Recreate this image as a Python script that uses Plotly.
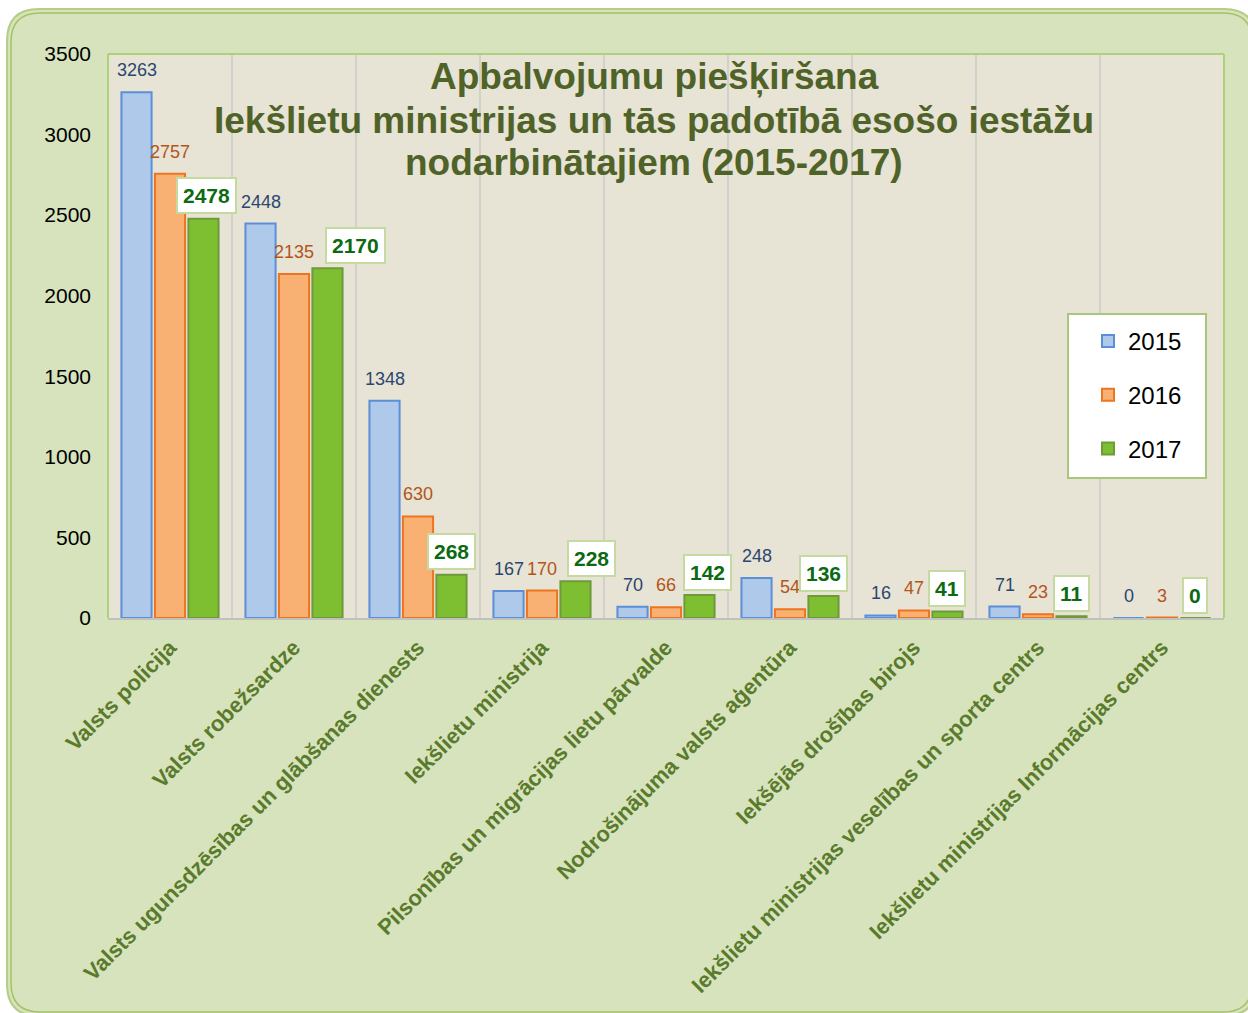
import plotly.graph_objects as go

categories = [
    "Valsts policija",
    "Valsts robežsardze",
    "Valsts ugunsdzēsības un glābšanas dienests",
    "Iekšlietu ministrija",
    "Pilsonības un migrācijas lietu pārvalde",
    "Nodrošinājuma valsts aģentūra",
    "Iekšējās drošības birojs",
    "Iekšlietu ministrijas veselības un sporta centrs",
    "Iekšlietu ministrijas Informācijas centrs",
]
years = ["2015", "2016", "2017"]
v2015 = [3263, 2448, 1348, 167, 70, 248, 16, 71, 0]
v2016 = [2757, 2135, 630, 170, 66, 54, 47, 23, 3]
v2017 = [2478, 2170, 268, 228, 142, 136, 41, 11, 0]
y_ticks = [0, 500, 1000, 1500, 2000, 2500, 3000, 3500]
title_lines = [
    "Apbalvojumu piešķiršana",
    "Iekšlietu ministrijas un tās padotībā esošo iestāžu",
    "nodarbinātajiem (2015-2017)",
]

# style: small horizontal nudges (px) of the boxed 2017 labels, to avoid overlaps
label_nudge_2017 = [3, 28, 0, 16, 8, 0, 0, 0, 0]

W, H = 1248, 1013
L, R, T, B = 108, 24, 54, 395
PW = W - L - R
PH = H - T - B
BARGAP = 0.19
FONT = "Liberation Sans, Arial, sans-serif"


def px(x):
    return (x - L) / PW


def py(y):
    return (H - B - y) / PH


def rounded(x0, y0, x1, y1, r):
    X = lambda v: f"{px(v):.5f}"
    Y = lambda v: f"{py(v):.5f}"
    return (f"M {X(x0 + r)},{Y(y0)} L {X(x1 - r)},{Y(y0)} Q {X(x1)},{Y(y0)} {X(x1)},{Y(y0 + r)} "
            f"L {X(x1)},{Y(y1 - r)} Q {X(x1)},{Y(y1)} {X(x1 - r)},{Y(y1)} "
            f"L {X(x0 + r)},{Y(y1)} Q {X(x0)},{Y(y1)} {X(x0)},{Y(y1 - r)} "
            f"L {X(x0)},{Y(y0 + r)} Q {X(x0)},{Y(y0)} {X(x0 + r)},{Y(y0)} Z")


series = [
    ("2015", v2015, "#afc9ea", "#5b8fd8", "#2b4670"),
    ("2016", v2016, "#f8b173", "#ee7420", "#b35518"),
    ("2017", v2017, "#7dbf30", "#6f9a3b", "#0b6a12"),
]

fig = go.Figure()
for name, vals, fill, edge, lab in series:
    fig.add_bar(
        x=categories, y=vals, name=name, legendgroup=name,
        marker=dict(color=fill, line=dict(color=edge, width=2)),
        hoverinfo="x+y+name",
    )

shapes = [
    # outer frame
    dict(type="path", xref="paper", yref="paper", layer="below",
         path=rounded(7, 9, 1256, 1016, 32), fillcolor="#d7e3bc",
         line=dict(color="#b5cd86", width=2)),
    dict(type="path", xref="paper", yref="paper", layer="below",
         path=rounded(11, 13, 1252, 1012, 29), fillcolor="rgba(0,0,0,0)",
         line=dict(color="#a4c267", width=1.5)),
    # plot area background
    dict(type="rect", xref="paper", yref="paper", layer="below",
         x0=0, x1=1, y0=0, y1=1, fillcolor="#e7e3d5", line=dict(width=0)),
    # plot area border (left, top, right)
    dict(type="line", xref="paper", yref="paper", x0=0, x1=0, y0=0, y1=1,
         line=dict(color="#add07a", width=2)),
    dict(type="line", xref="paper", yref="paper", x0=0, x1=1, y0=1, y1=1,
         line=dict(color="#add07a", width=2)),
    dict(type="line", xref="paper", yref="paper", x0=1, x1=1, y0=0, y1=1,
         line=dict(color="#add07a", width=2)),
    # legend box
    dict(type="rect", xref="paper", yref="paper",
         x0=px(1068), x1=px(1206), y0=py(478), y1=py(314),
         fillcolor="white", line=dict(color="#a9c77a", width=2)),
]

slot = PW / len(categories) * (1 - BARGAP) / 3
annotations = []
for i, (name, vals, fill, edge, lab) in enumerate(series):
    off = (i - 1) * slot
    for k, (c, v) in enumerate(zip(categories, vals)):
        if i < 2:
            annotations.append(dict(
                x=c, y=v, xref="x", yref="y", text=str(v), showarrow=False,
                xshift=off, yshift=22, yanchor="middle",
                font=dict(family=FONT, size=18, color=lab)))
        else:
            annotations.append(dict(
                x=c, y=v, xref="x", yref="y", text=f"<b>{v}</b>", showarrow=False,
                xshift=off + label_nudge_2017[k], yshift=23, yanchor="middle",
                bgcolor="white", bordercolor="#c4daa0", borderwidth=2, borderpad=5,
                font=dict(family=FONT, size=21, color=lab)))

for line, ymid in zip(title_lines, [77, 120.5, 162.5]):
    annotations.append(dict(
        x=px(654), y=py(ymid), xref="paper", yref="paper", xanchor="center", yanchor="middle",
        text=f"<b>{line}</b>", showarrow=False,
        font=dict(family=FONT, size=37, color="#4f6228")))

fig.update_layout(
    width=W, height=H,
    margin=dict(l=L, r=R, t=T, b=B, autoexpand=False),
    paper_bgcolor="white", plot_bgcolor="rgba(0,0,0,0)",
    barmode="group", bargap=BARGAP, bargroupgap=0.1,
    showlegend=True,
    legend=dict(x=px(1088), y=py(319), xanchor="left", yanchor="top",
                bgcolor="rgba(0,0,0,0)", borderwidth=0, tracegroupgap=19.5,
                font=dict(family=FONT, size=24, color="#000000")),
    shapes=shapes, annotations=annotations,
    xaxis=dict(
        type="category", tickangle=-45, tickson="boundaries",
        showgrid=True, gridcolor="#d2d0cb", gridwidth=2,
        showline=True, linecolor="#c0c0bc", linewidth=2,
        ticks="", automargin=False, ticklabelstandoff=6,
        tickfont=dict(family=FONT, size=22, color="#5a7a2c", weight="bold"),
    ),
    yaxis=dict(
        range=[0, 3500], tickvals=y_ticks, showgrid=False, zeroline=False,
        showline=False, ticks="", automargin=False, ticklabelstandoff=16,
        tickfont=dict(family=FONT, size=21, color="#000000"),
    ),
)

fig.write_html("out.html", config={"displayModeBar": False},
               post_script="document.body.style.margin='0px';")
